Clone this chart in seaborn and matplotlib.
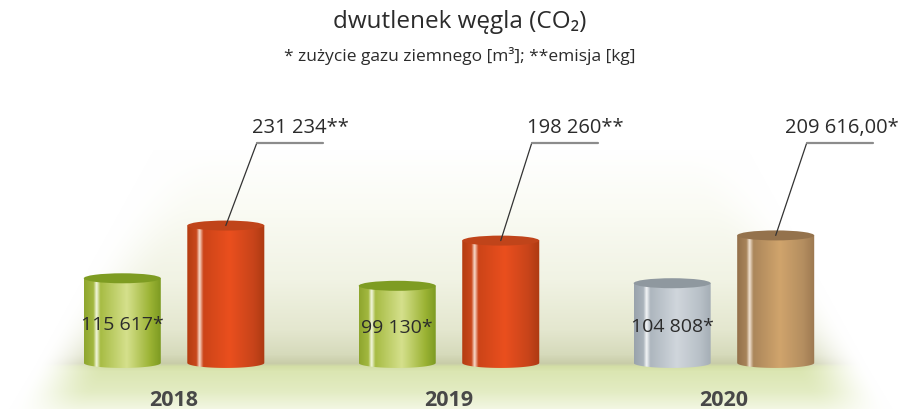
"""
CO2 chart: natural gas use vs. emission, drawn as shaded cylinders.
Bars come from sns.barplot; the cylinder look is painted over each bar patch.
"""

import numpy as np
import pandas as pd
import matplotlib
matplotlib.use("Agg")
import matplotlib.pyplot as plt
import seaborn as sns
from matplotlib.colors import LinearSegmentedColormap, to_rgb
from matplotlib.patches import Ellipse, Polygon

# --- data -----------------------------------------------------------------
YEARS = ["2018", "2019", "2020"]
GAS = [115617, 99130, 104808]            # zużycie gazu ziemnego [m3]
EMISSION = [231234, 198260, 209616]      # emisja [kg]
GAS_LABELS = ["115 617*", "99 130*", "104 808*"]
EMISSION_LABELS = ["231 234**", "198 260**", "209 616,00*"]

TITLE = "dwutlenek węgla (CO₂)"
SUBTITLE = "* zużycie gazu ziemnego [m³]; **emisja [kg]"

# --- style ----------------------------------------------------------------
SHADES = {
    "green": ["#8ea62e", "#a3b840", "#f4f8e0", "#a7bc44", "#d5e08c", "#9bb334", "#7a9820"],
    "red":   ["#b43c10", "#c9481c", "#f8dccc", "#cc4418", "#ea4f1e", "#c8441a", "#ac3a12"],
    "gray":  ["#99a3ac", "#aab3bb", "#f4f6f8", "#adb6be", "#d0d6dc", "#b8c0c7", "#a3acb4"],
    "brown": ["#93704a", "#a8845a", "#f2e4d4", "#ab865a", "#d0a46c", "#b48e60", "#9c7850"],
}
STOPS = [0.0, 0.12, 0.16, 0.21, 0.55, 0.85, 1.0]
LIDS = {"green": "#7e9c22", "red": "#c0441a", "gray": "#8f989f", "brown": "#94724c"}
BAR_STYLE = [["green", "green", "gray"], ["red", "red", "brown"]]

W_PX, H_PX = 901, 410
FLOOR = -70000          # value where the cylinders stand
YLIM = (-171000, 728000)
XLIM = (-0.633, 2.644)
LID_PX = 10
FONT = ["Open Sans", "DejaVu Sans"]
TEXT = "#2b2b2b"


def background():
    ys = [0, 150, 210, 280, 330, 355, 364, 367, 372, 392, 410]
    cols = ["#ffffff", "#ffffff", "#fafbf4", "#f1f3e4", "#e4e7cf", "#d6dabb",
            "#c8cca8", "#d3dea6", "#dbe6b2", "#e3ecc3", "#f3f7e4"]
    rgb = np.array([to_rgb(c) for c in cols])
    yy = np.arange(H_PX)
    prof = np.stack([np.interp(yy, ys, rgb[:, k]) for k in range(3)], axis=1)
    start = np.where(yy <= 365, 35 + (365 - yy) * 0.55, 35 - (yy - 365) * 0.6)
    xx = np.arange(W_PX)[None, :]
    s = start[:, None]
    m = np.clip((xx - s) / 75, 0, 1) * np.clip((W_PX - s - xx) / 75, 0, 1)
    m = m * m * (3 - 2 * m)
    img = 1 - m[..., None] * (1 - prof[:, None, :])
    return img


def cylinder(ax, x0, w, top, style, lid_h):
    cx = x0 + w / 2
    cmap = LinearSegmentedColormap.from_list(style, list(zip(STOPS, SHADES[style])))
    th = np.linspace(np.pi, 2 * np.pi, 60)
    pts = np.column_stack([cx + w / 2 * np.cos(th), FLOOR + lid_h / 2 * np.sin(th)])
    pts = np.vstack([pts, [[x0 + w, top], [x0, top]]])
    clip = Polygon(pts, closed=True, transform=ax.transData)
    im = ax.imshow(np.linspace(0, 1, 256)[None, :], cmap=cmap, aspect="auto",
                   extent=[x0, x0 + w, FLOOR - lid_h / 2, top], zorder=2,
                   interpolation="bilinear")
    im.set_clip_path(clip)
    ax.add_patch(Ellipse((cx, top), w, lid_h, facecolor=LIDS[style],
                         edgecolor="none", zorder=3))


df = pd.DataFrame({
    "rok": YEARS * 2,
    "seria": ["gaz"] * len(YEARS) + ["emisja"] * len(YEARS),
    "wartosc": GAS + EMISSION,
})

sns.set_theme(style="white")
plt.rcParams["font.family"] = FONT

fig = plt.figure(figsize=(W_PX / 100, H_PX / 100), dpi=100)
ax = fig.add_axes([0, 0, 1, 1])
ax.imshow(background(), extent=[0, 1, 0, 1], transform=ax.transAxes,
          aspect="auto", zorder=0)

sns.barplot(data=df, x="rok", y="wartosc", hue="seria", order=YEARS,
            hue_order=["gaz", "emisja"], width=0.753, gap=0.256,
            legend=False, ax=ax)

ax.set_xlim(*XLIM)
ax.set_ylim(*YLIM)
upp_y = (YLIM[1] - YLIM[0]) / H_PX
upp_x = (XLIM[1] - XLIM[0]) / W_PX
lid_h = LID_PX * upp_y
line_y = YLIM[0] + (H_PX - 144) * upp_y
text_y = YLIM[0] + (H_PX - 128) * upp_y

for si, cont in enumerate(ax.containers):
    for i, bar in enumerate(cont):
        x0, w, top = bar.get_x(), bar.get_width(), bar.get_height()
        bar.set_visible(False)
        cylinder(ax, x0, w, top, BAR_STYLE[si][i], lid_h)
        cx = x0 + w / 2
        if si == 0:
            ax.text(cx, (FLOOR + top) / 2 - 3 * upp_y, GAS_LABELS[i],
                    ha="center", va="center", fontsize=14, color=TEXT, zorder=5)
        else:
            xa = cx + 31 * upp_x
            xb = cx + 97 * upp_x
            ax.plot([cx, xa], [top, line_y], color="#333333", lw=0.9, zorder=5)
            ax.plot([xa, xb], [line_y, line_y], color="#8c8c8c", lw=1.6, zorder=5)
            ax.text(xb + 26 * upp_x, text_y, EMISSION_LABELS[i], ha="right",
                    va="center", fontsize=14.5, color=TEXT, zorder=5)

for i, year in enumerate(YEARS):
    ax.text(i, YLIM[0] + 9 * upp_y, year, ha="center", va="center",
            fontsize=15.5, fontweight="bold", color="#484848")

fig.text(0.51, 1 - 22 / H_PX, TITLE, ha="center", va="center",
         fontsize=17.5, color=TEXT)
fig.text(0.51, 1 - 56 / H_PX, SUBTITLE, ha="center", va="center",
         fontsize=12.5, color=TEXT)

ax.axis("off")
fig.savefig("out.png", dpi=100)
